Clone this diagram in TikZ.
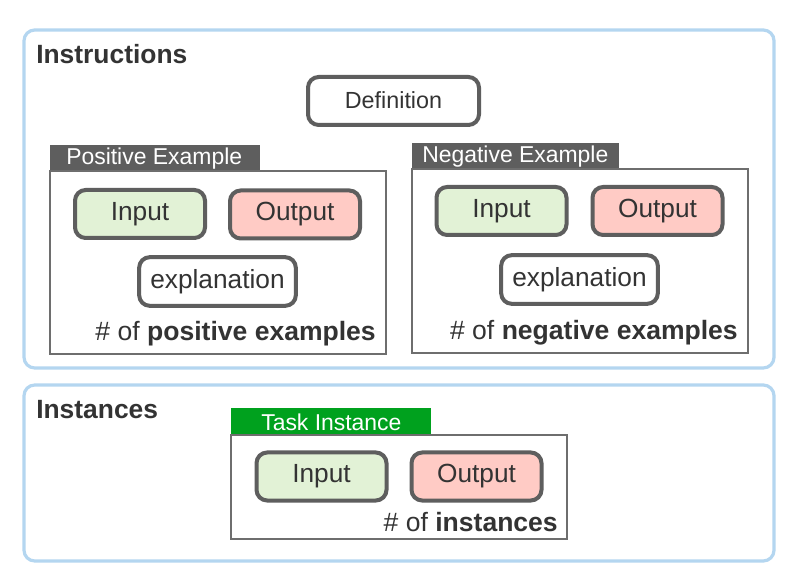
\documentclass[tikz,border=0pt]{standalone}
\usepackage{fontspec}
\setmainfont{Liberation Sans}
\definecolor{txt}{HTML}{333333}
\definecolor{frame}{HTML}{B4D6F0}
\definecolor{boxline}{HTML}{5E5E5E}
\definecolor{ingreen}{HTML}{E2F2D6}
\definecolor{outpink}{HTML}{FFCBC5}
\definecolor{hdrgray}{HTML}{5E5E5E}
\definecolor{hdrgreen}{HTML}{00A11E}
\tikzset{
  px/.style={x=0.75pt,y=-0.75pt},
  section/.style={draw=frame,line width=2.4pt,rounded corners=8pt,fill=white},
  panel/.style={draw=boxline!90,line width=0.8pt},
  pill/.style={draw=boxline,line width=3pt,rounded corners=8pt,text=txt,font=\fontsize{19.7}{22}\selectfont,inner sep=0pt},
  ingreenbox/.style={pill,fill=ingreen,minimum width=97.5pt,minimum height=36pt},
  outpinkbox/.style={pill,fill=outpink,minimum width=97.5pt,minimum height=36pt},
  explbox/.style={pill,fill=white,minimum width=117.5pt,minimum height=36.5pt},
  hdrtext/.style={text=white,font=\fontsize{17.2}{20}\selectfont,inner sep=0pt,anchor=west},
  title/.style={text=txt,font=\fontsize{19.8}{23}\selectfont\bfseries,inner sep=0pt,anchor=west},
  countlbl/.style={text=txt,font=\fontsize{19.9}{23}\selectfont,inner sep=0pt,anchor=base east}
}
\begin{document}
\begin{tikzpicture}[px]
\useasboundingbox (0,0) rectangle (807,584);
% sections
\draw[section] (24,30) rectangle (774,368);
\draw[section] (24,385) rectangle (774,561);
\node[title] (tinstr) at (36,54) {Instructions};
\node[title] (tinst) at (36,410) {Instances};
% definition
\node[pill,fill=white,minimum width=128.25pt,minimum height=36pt,font=\fontsize{17.5}{21}\selectfont] (def) at (393.5,101) {\raisebox{2pt}{Definition}};
% positive example
\fill[hdrgray] (50,145) rectangle (260,171);
\node[hdrtext] (poshdr) at (66,158.5) {Positive Example};
\draw[panel] (50,171) rectangle (386,354);
\node[ingreenbox] (pin) at (140,214) {\raisebox{1.5pt}{Input}};
\node[outpinkbox] (pout) at (295,214.5) {\raisebox{1.5pt}{Output}};
\node[explbox] (pexp) at (217.5,281.5) {\raisebox{1.5pt}{explanation}};
\node[countlbl] (pcnt) at (376,341) {\# of \textbf{positive examples}};
% negative example
\fill[hdrgray] (412,143) rectangle (619,169);
\node[hdrtext] (neghdr) at (422,156.5) {Negative Example};
\draw[panel] (412,169) rectangle (748,353);
\node[ingreenbox] (nin) at (501.5,211) {\raisebox{1.5pt}{Input}};
\node[outpinkbox] (nout) at (657.5,211) {\raisebox{1.5pt}{Output}};
\node[explbox] (nexp) at (579.5,279.5) {\raisebox{1.5pt}{explanation}};
\node[countlbl] (ncnt) at (738,340) {\# of \textbf{negative examples}};
% task instance
\fill[hdrgreen] (231,408) rectangle (431,435);
\node[hdrtext] (thdr) at (261,422) {Task Instance};
\draw[panel] (231,435) rectangle (567,539);
\node[ingreenbox] (tin) at (321.5,476.5) {\raisebox{1.5pt}{Input}};
\node[outpinkbox] (tout) at (476.5,476.5) {\raisebox{1.5pt}{Output}};
\node[countlbl] (tcnt) at (558,531) {\# of \textbf{instances}};
\end{tikzpicture}
\end{document}
